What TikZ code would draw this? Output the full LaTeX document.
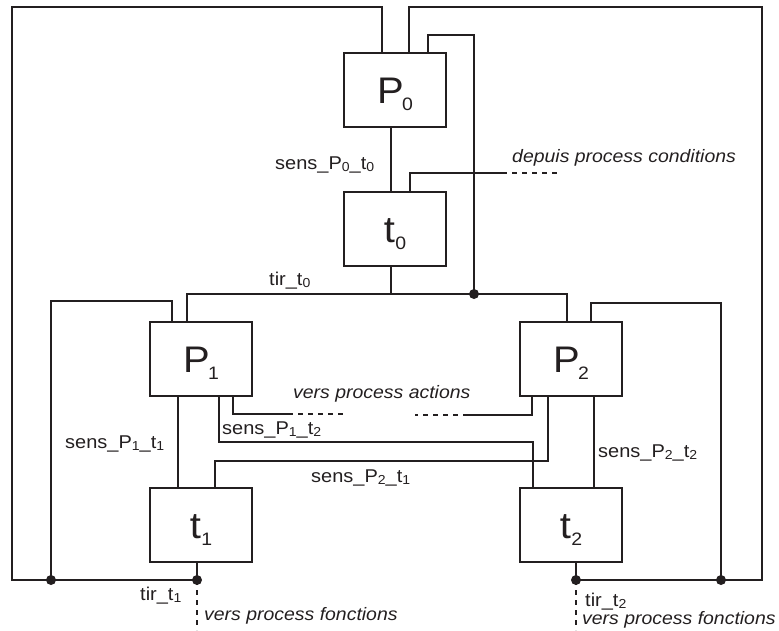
\documentclass[tikz,border=0pt]{standalone}
\usepackage{fontspec}
\setmainfont{Liberation Sans}[FakeStretch=1.08]
\usetikzlibrary{calc}
\definecolor{ink}{HTML}{231F20}
% index lowered after a letter: large form for the boxes, small form for the wire labels
\newcommand\boxsub[3][0pt]{#2\kern#1\raisebox{-7pt}{\fontsize{18}{18}\selectfont #3}}
\newcommand\lblsub[1]{\raisebox{-2pt}{\fontsize{13}{13}\selectfont #1}}
\tikzset{
  wire/.style={draw=ink, line width=1.25pt},
  ext/.style={wire, dash pattern=on 5pt off 5pt},
  place/.style={draw=ink, line width=1.25pt, fill=white, minimum width=102pt,
    minimum height=74pt, inner sep=0pt, outer sep=0pt, text height=27pt,
    text depth=0pt, font=\fontsize{37}{40}\selectfont, text=ink},
  lbl/.style={anchor=base west, inner sep=0pt, text=ink, font=\fontsize{18.5}{20}\selectfont},
  note/.style={lbl, font=\fontsize{18}{20}\selectfont\itshape},
  junction/.style={fill=ink},
}
\begin{document}
\begin{tikzpicture}[x=1pt,y=-1pt]
\useasboundingbox (0,0) rectangle (779,630);

% places and transitions
\node[place] (P0) at (395,90)  {\boxsub[-1.5pt]{P}{0}};
\node[place] (t0) at (395,229) {\boxsub[0.5pt]{t}{0}};
\node[place] (P1) at (201,359) {\boxsub[-1.5pt]{P}{1}};
\node[place] (t1) at (201,525) {\boxsub[0.5pt]{t}{1}};
\node[place] (P2) at (571,359) {\boxsub[-1.5pt]{P}{2}};
\node[place] (t2) at (571,525) {\boxsub[0.5pt]{t}{2}};

% junctions, corners and loose ends
\coordinate (jt0) at (474,294);
\coordinate (jl)  at (51,580);
\coordinate (jt1) at (197,580);
\coordinate (jt2) at (576,580);
\coordinate (jr)  at (721,580);
\coordinate (nw) at (12,7);
\coordinate (ne) at (762,7);
\coordinate (p0hook) at (474,35);
\coordinate (p1hook) at (51,301);
\coordinate (p2hook) at (721,303);
\coordinate (busL) at (187,294);
\coordinate (busR) at (567,294);
\coordinate (condA) at (502,173);
\coordinate (condB) at (557,173);
\coordinate (actA) at (288,414);
\coordinate (actB) at (344,414);
\coordinate (actC) at (468,415);
\coordinate (actD) at (415,415);
\coordinate (fonc1) at (197,630);
\coordinate (fonc2) at (576,630);

% outer loops from P0
\draw[wire] ($(P0.north west)+(38,0)$) |- (nw) |- (jt1);
\draw[wire] ($(P0.north west)+(65,0)$) |- (ne) |- (jt2);
\draw[wire] ($(P0.north west)+(84,0)$) |- (p0hook) -- (jt0);

% P0 -> t0 -> bus -> P1, P2
\draw[wire] ($(P0.south)+(-4,0)$) -- ($(t0.north)+(-4,0)$);
\draw[wire] ($(t0.south)+(-4,0)$) -- +(0,28);
\draw[wire] (P1.north -| busL) -- (busL) -- (busR) -- (P2.north -| busR);
\draw[wire] ($(t0.north west)+(66,0)$) |- (condA);
\draw[ext] (condA) -- (condB);

% P1 side
\draw[wire] ($(P1.north west)+(22,0)$) |- (p1hook) -- (jl);
\draw[wire] ($(P1.south west)+(28,0)$) -- ($(t1.north west)+(28,0)$);
\draw[wire] ($(P1.south west)+(83,0)$) |- (actA);
\draw[ext] (actA) -- (actB);
\draw[wire] ($(P1.south west)+(69,0)$) -- ++(0,46) -| ($(t2.north west)+(13,0)$);
\draw[wire] (t1.south -| jt1) -- (jt1);
\draw[ext] (jt1) -- (fonc1);

% P2 side
\draw[wire] ($(P2.north west)+(71,0)$) |- (p2hook) -- (jr);
\draw[wire] ($(P2.south west)+(12,0)$) |- (actC);
\draw[ext] (actC) -- (actD);
\draw[wire] ($(P2.south west)+(28,0)$) -- ++(0,65) -| ($(t1.north west)+(65,0)$);
\draw[wire] ($(P2.south west)+(74,0)$) -- ($(t2.north west)+(74,0)$);
\draw[wire] (t2.south -| jt2) -- (jt2);
\draw[ext] (jt2) -- (fonc2);

% junction dots
\foreach \j in {jt0,jl,jt1,jt2,jr} \fill[junction] (\j) circle (5pt);

% wire labels
\node[lbl] (lP0t0) at (275,169) {sens\_P\lblsub{0}\_t\lblsub{0}};
\node[lbl] (ltir0) at (269,285) {tir\_t\lblsub{0}};
\node[note] (lcond) at (512,162) {depuis process conditions};
\node[note] (lact) at (293,398) {vers process actions};
\node[lbl] (lP1t1) at (65,448) {sens\_P\lblsub{1}\_t\lblsub{1}};
\node[lbl] (lP1t2) at (222,434) {sens\_P\lblsub{1}\_t\lblsub{2}};
\node[lbl] (lP2t1) at (311,482) {sens\_P\lblsub{2}\_t\lblsub{1}};
\node[lbl] (lP2t2) at (598,457) {sens\_P\lblsub{2}\_t\lblsub{2}};
\node[lbl] (ltir1) at (140,600) {tir\_t\lblsub{1}};
\node[note] (lfonc1) at (204,620) {vers process fonctions};
\node[lbl] (ltir2) at (585,606) {tir\_t\lblsub{2}};
\node[note] (lfonc2) at (582,624) {vers process fonctions};
\end{tikzpicture}
\end{document}
